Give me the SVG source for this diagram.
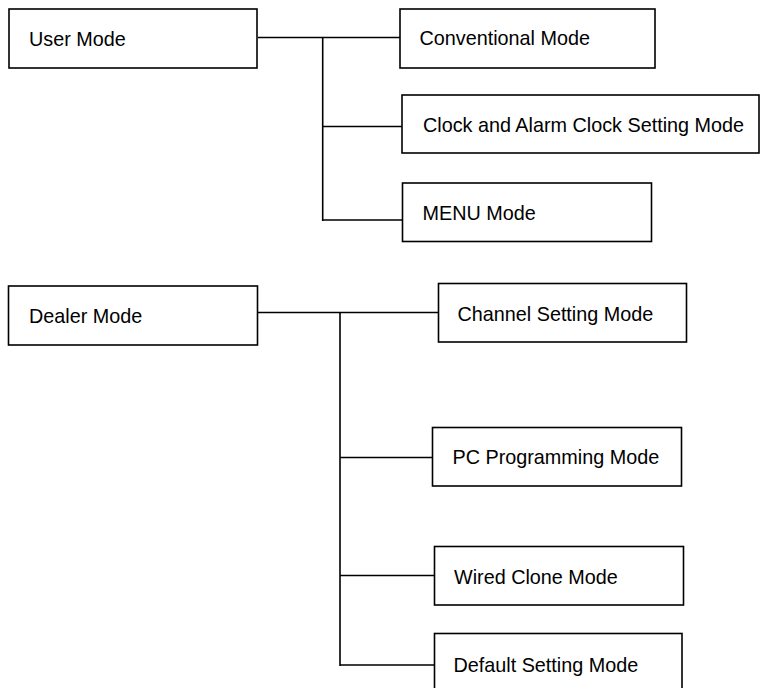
<svg xmlns="http://www.w3.org/2000/svg" width="760" height="688" viewBox="0 0 760 688">
<style>
.box{fill:#fff;stroke:#000;stroke-width:1.6}
.lbl{font-family:"Liberation Sans",Arial,sans-serif;font-size:19.8px;fill:#000}
.con{stroke:#000;stroke-width:1.6;fill:none}
</style>
<rect width="760" height="688" fill="#fff"/>
<g id="connectors">
<path class="con" d="M258 37.5H400 M322.7 37.5V221 M322.7 126.5H402 M322.7 220H402"/>
<path class="con" d="M258 312.5H438 M340 312.5V666 M340 457.5H432 M340 575.5H434 M340 665H434"/>
</g>
<g id="user-mode"><rect class="box" x="9" y="9" width="248" height="59"/><text class="lbl" x="29" y="45.5">User Mode</text></g>
<g id="conventional-mode"><rect class="box" x="400" y="9" width="255" height="59"/><text class="lbl" x="419.5" y="45">Conventional Mode</text></g>
<g id="clock-mode"><rect class="box" x="402" y="95" width="357" height="58"/><text class="lbl" x="423" y="131.5">Clock and Alarm Clock Setting Mode</text></g>
<g id="menu-mode"><rect class="box" x="402.5" y="183" width="249" height="58.5"/><text class="lbl" x="422.5" y="220">MENU Mode</text></g>
<g id="dealer-mode"><rect class="box" x="8.5" y="286" width="249" height="59"/><text class="lbl" x="29" y="323">Dealer Mode</text></g>
<g id="channel-setting-mode"><rect class="box" x="438.5" y="283.5" width="248" height="58.5"/><text class="lbl" x="457.5" y="320.5">Channel Setting Mode</text></g>
<g id="pc-programming-mode"><rect class="box" x="432.5" y="427.5" width="249" height="58.5"/><text class="lbl" x="452.5" y="464">PC Programming Mode</text></g>
<g id="wired-clone-mode"><rect class="box" x="434.5" y="546.5" width="249" height="58.5"/><text class="lbl" x="454" y="583.5">Wired Clone Mode</text></g>
<g id="default-setting-mode"><rect class="box" x="434.5" y="633.5" width="247.5" height="60"/><text class="lbl" x="453.5" y="672">Default Setting Mode</text></g>
</svg>
